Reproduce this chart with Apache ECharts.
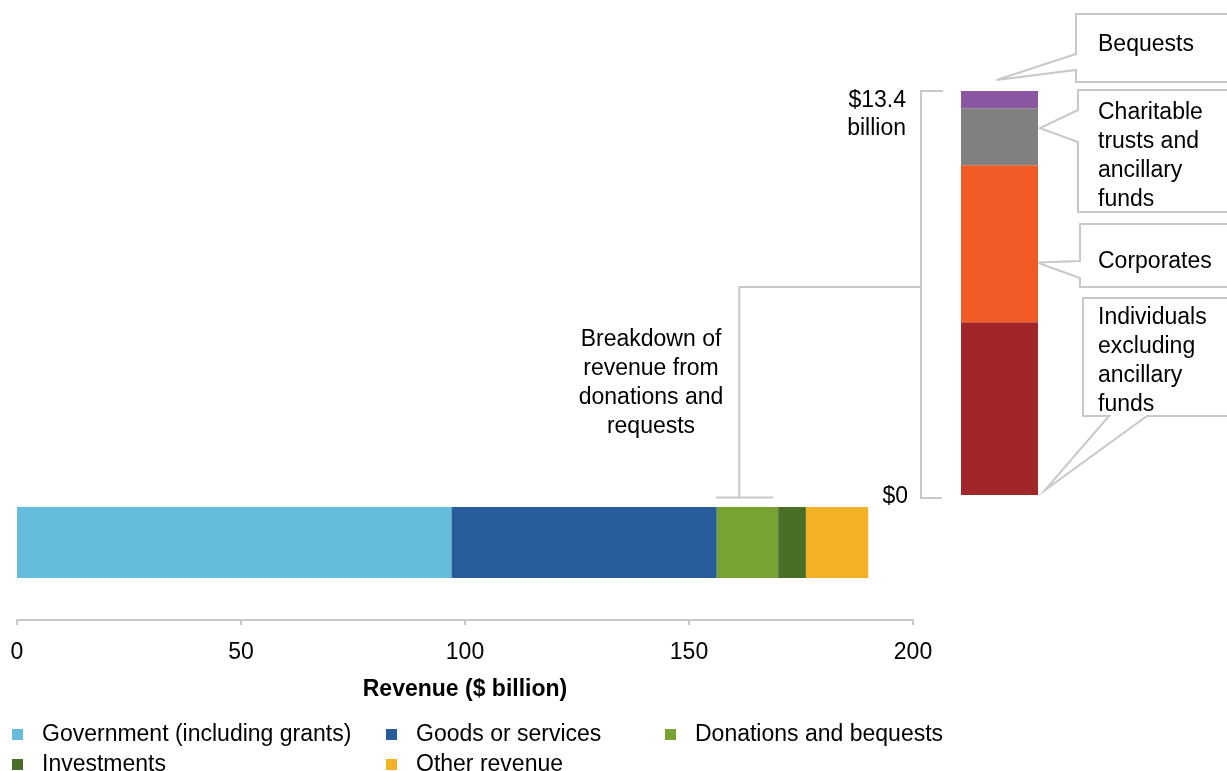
<!DOCTYPE html>
<html><head><meta charset="utf-8">
<script src="https://cdn.jsdelivr.net/npm/echarts@6.0.0/dist/echarts.min.js"></script>
<style>html,body{margin:0;padding:0;background:#fff}#c{width:1227px;height:771px}</style>
</head><body><div id="c"></div>
<script>
// ---- data ----
const categories = ['Revenue'];
const revenueNames = ['Government (including grants)', 'Goods or services', 'Donations and bequests', 'Investments', 'Other revenue'];
const revenueValues = [97.0, 59.2, 13.7, 6.2, 13.9];
const xTicks = [0, 50, 100, 150, 200];
const breakdownCategory = ['Donations and bequests'];
const breakdownNames = ['Individuals excluding ancillary funds', 'Corporates', 'Charitable trusts and ancillary funds', 'Bequests'];
const breakdownValues = [5.73, 5.21, 1.89, 0.57];
const breakdownTotal = 13.4;
const breakdownTickLabels = ['$0', '$13.4\nbillion'];
const calloutTexts = ['Individuals\nexcluding\nancillary\nfunds', 'Corporates', 'Charitable\ntrusts and\nancillary\nfunds', 'Bequests'];
const annotationText = 'Breakdown of\nrevenue from\ndonations and\nrequests';
const axisName = 'Revenue ($ billion)';

// ---- style ----
const revenueColors = ['#65bcdb', '#285c9a', '#78a232', '#4a6e28', '#f3b125'];
const breakdownColors = ['#a0262a', '#f05a24', '#808080', '#8b57a3'];
const FONT = '"Liberation Sans", Arial, sans-serif';
const LINE = '#c8c8c8';
const FS = 23;
const DY = 1.5; // vertical text nudge

const chart = echarts.init(document.getElementById('c'), null, {renderer: 'canvas'});

const legendBase = {
  orient: 'vertical', top: 723, height: 80, itemGap: 7, itemWidth: 11, itemHeight: 11, icon: 'rect',
  selectedMode: false, padding: 0,
  textStyle: {fontFamily: FONT, fontSize: FS, color: '#000', lineHeight: 22, padding: [0, 0, 0, 14]}
};

const series = [];
revenueNames.forEach((n, i) => series.push({
  name: n, type: 'bar', stack: 'rev', xAxisIndex: 0, yAxisIndex: 0,
  data: [revenueValues[i]], barWidth: 71, itemStyle: {color: revenueColors[i]}, silent: true
}));
breakdownNames.forEach((n, i) => series.push({
  name: n, type: 'bar', stack: 'bd', xAxisIndex: 1, yAxisIndex: 1,
  data: [breakdownValues[i]], barWidth: '100%', itemStyle: {color: breakdownColors[i]}, silent: true
}));

chart.setOption({
  animation: false,
  backgroundColor: '#fff',
  textStyle: {fontFamily: FONT},
  grid: [
    {left: 17, right: 314, top: 465, bottom: 151},
    {left: 961, width: 77, top: 91, bottom: 276}
  ],
  xAxis: [
    {
      type: 'value', gridIndex: 0, min: xTicks[0], max: xTicks[xTicks.length - 1], interval: xTicks[1] - xTicks[0],
      axisLine: {show: true, lineStyle: {color: LINE, width: 2}},
      axisTick: {show: true, length: 5, lineStyle: {color: LINE, width: 2}},
      splitLine: {show: false},
      axisLabel: {fontFamily: FONT, fontSize: FS, color: '#000', margin: 21},
      name: axisName, nameLocation: 'middle', nameGap: 58,
      nameTextStyle: {fontFamily: FONT, fontSize: FS, fontWeight: 'bold', color: '#000'}
    },
    {type: 'category', gridIndex: 1, data: breakdownCategory, show: false}
  ],
  yAxis: [
    {type: 'category', gridIndex: 0, data: categories, show: false},
    {type: 'value', gridIndex: 1, min: 0, max: breakdownTotal, show: false}
  ],
  legend: [
    Object.assign({}, legendBase, {left: 12, data: [revenueNames[0], revenueNames[3]]}),
    Object.assign({}, legendBase, {left: 386, data: [revenueNames[1], revenueNames[4]]}),
    Object.assign({}, legendBase, {left: 665, data: [revenueNames[2]]})
  ],
  series: series
});

// ---- annotations positioned from the axes ----
const p0 = v => chart.convertToPixel({gridIndex: 0}, [v, categories[0]]);
const p1 = v => chart.convertToPixel({gridIndex: 1}, [breakdownCategory[0], v]);

const barCenterY = p0(0)[1];
const barTop = barCenterY - 35.5;
const goodsEnd = revenueValues[0] + revenueValues[1];
const donEnd = goodsEnd + revenueValues[2];
const xs = p0(goodsEnd)[0];
const xe = p0(donEnd)[0];
const bY = barTop - 9.5;
const vX = xs + 22.5;
const joinY = 287;

const bdCx = p1(0)[0];
const bdLeft = bdCx - 38.5, bdRight = bdCx + 38.5;
const bdBottom = p1(0)[1];
const bdTop = p1(breakdownTotal)[1];
const brX = bdLeft - 40;

const cum = [];
breakdownValues.reduce((a, v, i) => (cum[i] = a + v), 0);

const tipInd = [bdRight + 7, bdBottom - 5];
const tipCorp = [bdRight - 1, p1(cum[1] - 0.62 * breakdownValues[1])[1]];
const tipChar = [bdRight + 2, p1(cum[2] - 0.35 * breakdownValues[2])[1]];
const tipBeq = [bdCx - 3, bdTop - 11];

const boxStyle = {fill: '#fff', stroke: LINE, lineWidth: 2};
const lineStyle = {stroke: LINE, lineWidth: 2, fill: null};
const R = 1245;
const txt = (x, y, text, align, lh) => ({
  type: 'text', x: x, y: y + DY, silent: true,
  style: {text: text, fontFamily: FONT, fontSize: FS, fill: '#000', align: align || 'left', verticalAlign: 'middle', lineHeight: lh || 29}
});

const graphics = [
  // bracket over donations segment
  {type: 'polyline', silent: true, shape: {points: [[xs - 1, bY], [xe - 5, bY]]}, style: lineStyle},
  {type: 'polyline', silent: true, shape: {points: [[vX, bY], [vX, joinY], [brX, joinY]]}, style: lineStyle},
  // bracket beside breakdown bar
  {type: 'polyline', silent: true, shape: {points: [[brX + 22, bdTop], [brX, bdTop], [brX, bdBottom + 3], [brX + 21, bdBottom + 3]]}, style: lineStyle},
  // callout boxes
  {type: 'polygon', silent: true, shape: {points: [[1076, 14], [R, 14], [R, 82], [1076, 82], [1076, 70], tipBeq, [1076, 54]]}, style: boxStyle},
  {type: 'polygon', silent: true, shape: {points: [[1078, 90], [R, 90], [R, 212], [1078, 212], [1078, 142], tipChar, [1078, 110]]}, style: boxStyle},
  {type: 'polygon', silent: true, shape: {points: [[1080, 224], [R, 224], [R, 287], [1080, 287], [1080, 278], tipCorp, [1080, 261]]}, style: boxStyle},
  {type: 'polygon', silent: true, shape: {points: [[1083, 298], [R, 298], [R, 416], [1147, 416], tipInd, [1109, 416], [1083, 416]]}, style: boxStyle},
  // texts
  txt(1098, 43.5, calloutTexts[3]),
  txt(1098, 154.5, calloutTexts[2]),
  txt(1098, 260, calloutTexts[1]),
  txt(1098, 360, calloutTexts[0]),
  txt(651, 382, annotationText, 'center'),
  txt(906, bdTop + 22, breakdownTickLabels[1], 'right', 28),
  txt(908, bdBottom, breakdownTickLabels[0], 'right')
];

chart.setOption({graphic: graphics});
</script>
</body></html>
